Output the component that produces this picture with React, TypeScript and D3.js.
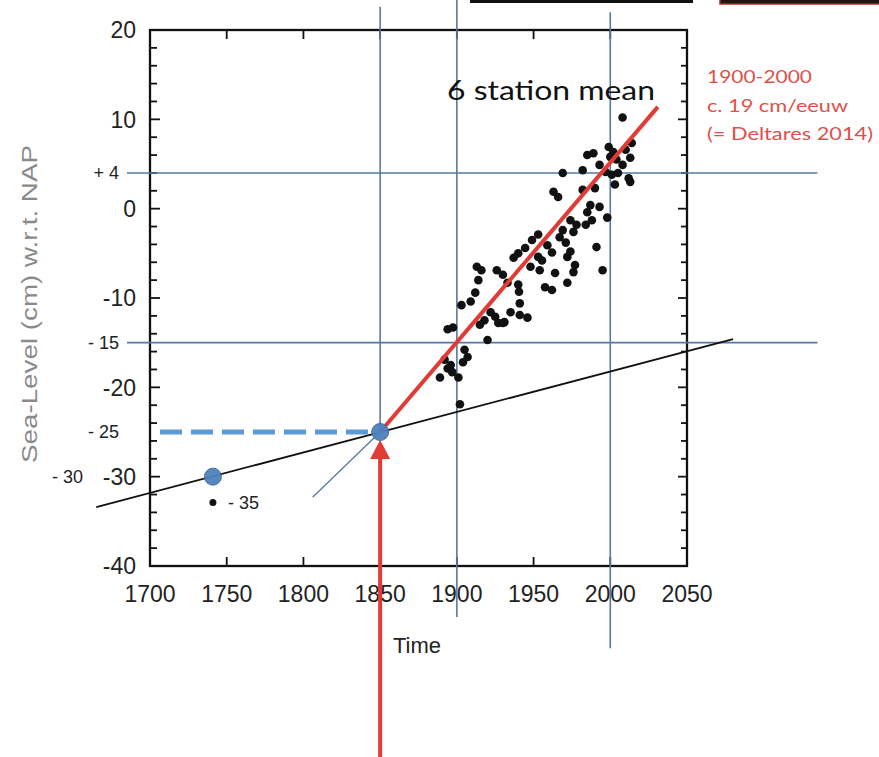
import React from "react";
import * as d3 from "d3";

// ---- data ----
const xTicks = [1700, 1750, 1800, 1850, 1900, 1950, 2000, 2050];
const yTicks = [20, 10, 0, -10, -20, -30, -40];
const yMinorTicks = d3.range(-40, 21, 2);

// six-station annual mean sea level (cm w.r.t. NAP)
const obsYears = [
  2008, 1999, 2002, 2014, 2013, 1985, 1989, 1982, 2008, 2005, 2012, 2013, 1969, 1993, 1997, 1990,
  1982, 1963, 1966, 1993, 1985, 1988, 1998, 1974, 1978, 1976, 1991, 1971, 1974, 1972, 1995, 1976,
  1969, 1953, 1949, 1944.5, 1940, 1959, 1962, 1937, 1953, 1955.5, 1948, 1954, 1964, 1972, 1913, 1916,
  1926, 1930, 1914, 1933, 1940, 1940.5, 1957.5, 1962, 1912, 1941, 1903, 1909, 1922, 1925, 1931, 1935,
  1941, 1946, 1918, 1915, 1894, 1897.5, 1920, 1905, 1907, 1904, 1892, 1896, 1894, 1897, 1889, 1901,
  1902, 2000, 2004, 2010, 1927, 1930, 1967, 1977, 1987, 1984, 2001, 2003,
];
const obsValues = [
  10.2, 6.9, 6.35, 7.35, 5.7, 6.0, 6.2, 4.3, 4.9, 4.0, 3.4, 3.0, 4.0, 4.9, 4.1, 2.3,
  2.1, 1.9, 1.3, 0.2, -0.4, -1.3, -1.0, -1.3, -1.8, -2.6, -4.3, -3.8, -4.8, -5.4, -6.9, -7.1,
  -2.4, -2.9, -3.5, -4.4, -5.0, -4.1, -4.9, -5.5, -5.4, -5.8, -6.5, -6.9, -7.2, -8.3, -6.5, -6.9,
  -6.9, -7.4, -8.0, -8.3, -8.5, -9.3, -8.8, -9.1, -9.4, -10.6, -10.8, -10.4, -11.6, -12.1, -12.7, -11.6,
  -11.9, -12.2, -12.5, -13.0, -13.5, -13.3, -14.7, -15.8, -16.6, -17.2, -16.9, -17.5, -17.9, -18.3, -18.9, -18.9,
  -21.9, 5.8, 5.5, 6.6, -12.8, -12.8, -3.2, -6.3, 0.4, -1.8, 3.8, 2.7,
];

// long-term trend (black), 1900-2000 trend (red), thin blue guide
const trendYears = [1665, 2080];
const trendValues = [-33.4, -14.6];
const redYears = [1850, 2031];
const redValues = [-25, 11.4];
const guideYears = [1806, 1850];
const guideValues = [-32.3, -25];

// reference levels
const hLevels = [4, -15];
const hYears = [1685, 2135];
const vYears = [1850, 1900, 2000];
const vTop = [22.6, 23.4, 22.0];
const vBottom = [-25, -45.7, -49.2];

// highlighted points
const circleYears = [1741, 1850];
const circleValues = [-30, -25];
const dashYears = [1706.5, 1850];
const dashValue = -25;
const smallDot = { year: 1741, value: -32.9 };
const arrowYear = 1850;
const arrowFrom = -61.4;
const arrowTo = -25.9;

const sideLabels = [
  { text: "+ 4", value: 4 },
  { text: "- 15", value: -15 },
  { text: "- 25", value: -25 },
];
const redNote = ["1900-2000", "c. 19 cm/eeuw", "(= Deltares 2014)"];
const redNoteLen = [105, 141, 166];

export default function App() {
  const W = 879, H = 757;
  const left = 150, right = 687, top = 30, bottom = 566;
  const x = d3.scaleLinear().domain([1700, 2050]).range([left, right]);
  const y = d3.scaleLinear().domain([-40, 20]).range([bottom, top]);

  const blue = "#5679a3";
  const red = "#e23b35";
  const tickFont = "'Liberation Sans', Arial, sans-serif";
  const noteFont = "Lato, 'Open Sans', sans-serif";

  const line2 = (xs: number[], vs: number[]) =>
    d3.line<number>().x((_, i) => x(xs[i])).y((v) => y(v))(vs) || "";

  return (
    <svg width={W} height={H} style={{ position: "absolute", left: 0, top: 0, background: "#fff" }}>
      {/* cropped boxes at top */}
      <rect x={470} y={-2} width={223} height={5} fill="#111" />
      <rect x={720} y={-2} width={162} height={6} fill="#2a1010" stroke="#a03030" strokeWidth={1.5} />

      {/* frame */}
      <rect x={left} y={top} width={right - left} height={bottom - top} fill="none" stroke="#111" strokeWidth={2.3} />
      {yMinorTicks.map((v) => {
        const major = v % 10 === 0;
        return (
          <g key={"yt" + v} stroke="#111" strokeWidth={1.8}>
            <line x1={left} x2={left + (major ? 10 : 7)} y1={y(v)} y2={y(v)} />
            <line x1={right} x2={right - (major ? 9 : 6)} y1={y(v)} y2={y(v)} />
          </g>
        );
      })}
      {xTicks.map((t) => (
        <g key={"xt" + t} stroke="#111" strokeWidth={1.8}>
          <line x1={x(t)} x2={x(t)} y1={bottom} y2={bottom - 9} />
          <line x1={x(t)} x2={x(t)} y1={top} y2={top + 9} />
        </g>
      ))}
      {yTicks.map((v) => (
        <text key={"yl" + v} x={136} y={y(v)} dy="0.36em" textAnchor="end" fontFamily={tickFont}
          fontSize={23} fill="#222">{v}</text>
      ))}
      {xTicks.map((t) => (
        <text key={"xl" + t} x={x(t)} y={602} textAnchor="middle" fontFamily={tickFont} fontSize={23} fill="#222">{t}</text>
      ))}
      <text x={393} y={653} fontFamily={tickFont} fontSize={22} fill="#222">Time</text>
      <text transform={`translate(37,${304}) rotate(-90)`} textAnchor="middle" fontFamily={tickFont}
        fontSize={22} fill="#8a8a8a" textLength={318} lengthAdjust="spacingAndGlyphs">Sea-Level (cm) w.r.t. NAP</text>

      {/* reference lines */}
      {hLevels.map((v) => (
        <line key={"h" + v} x1={x(hYears[0])} x2={x(hYears[1])} y1={y(v)} y2={y(v)} stroke={blue} strokeWidth={1.6} />
      ))}
      {vYears.map((yr, i) => (
        <line key={"v" + yr} x1={x(yr)} x2={x(yr)} y1={y(vTop[i])} y2={y(vBottom[i])} stroke={blue} strokeWidth={1.6} />
      ))}

      {/* black long-term trend */}
      <path d={line2(trendYears, trendValues)} stroke="#111" strokeWidth={1.8} fill="none" />
      {/* thin blue guide */}
      <path d={line2(guideYears, guideValues)} stroke={blue} strokeWidth={1.3} fill="none" />

      {/* observations */}
      {obsValues.map((v, i) => (
        <circle key={"o" + i} cx={x(obsYears[i])} cy={y(v)} r={4.3} fill="#111" />
      ))}

      {/* red regression line */}
      <path d={line2(redYears, redValues)} stroke={red} strokeWidth={4} fill="none" />

      {/* dashed level */}
      <line x1={x(dashYears[0])} x2={x(dashYears[1])} y1={y(dashValue)} y2={y(dashValue)}
        stroke="#5b9bd5" strokeWidth={5} strokeDasharray="22 9" />

      {/* circles */}
      {circleValues.map((v, i) => (
        <circle key={"c" + i} cx={x(circleYears[i])} cy={y(v)} r={8.5} fill="#4f81bd" stroke="#3d6a9c" strokeWidth={1} opacity={0.95} />
      ))}
      <circle cx={x(smallDot.year)} cy={y(smallDot.value)} r={3.5} fill="#111" />

      {/* red arrow */}
      <line x1={x(arrowYear)} x2={x(arrowYear)} y1={y(arrowFrom)} y2={y(arrowTo) + 16} stroke={red} strokeWidth={4} />
      <path
        d={`M${x(arrowYear)},${y(arrowTo)} L${x(arrowYear) + 10},${y(arrowTo) + 19} L${x(arrowYear) - 10},${y(arrowTo) + 19} Z`}
        fill={red} />

      {/* annotations */}
      {sideLabels.map((s) => (
        <text key={s.text} x={119} y={y(s.value)} dy="0.36em" textAnchor="end" fontFamily={tickFont}
          fontSize={18} fill="#222">{s.text}</text>
      ))}
      <text x={83} y={y(-30)} dy="0.36em" textAnchor="end" fontFamily={tickFont} fontSize={18} fill="#222">- 30</text>
      <text x={228} y={y(smallDot.value)} dy="0.36em" fontFamily={tickFont} fontSize={18} fill="#222">- 35</text>

      <text x={447} y={100} fontFamily={noteFont} fontSize={27} fill="#111" textLength={208}
        lengthAdjust="spacingAndGlyphs">6 station mean</text>
      {redNote.map((t, i) => (
        <text key={t} x={707} y={83 + i * 28.5} fontFamily={noteFont} fontSize={18} fill="#e0504a"
          textLength={redNoteLen[i]} lengthAdjust="spacingAndGlyphs">{t}</text>
      ))}
    </svg>
  );
}
